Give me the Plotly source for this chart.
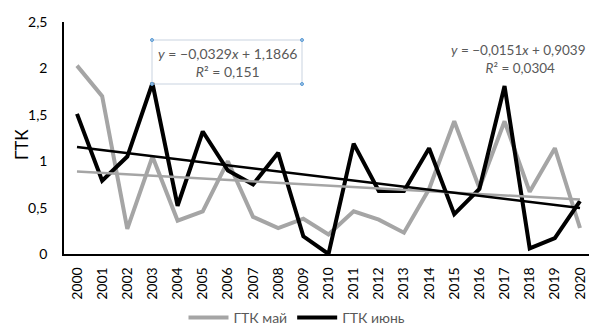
import plotly.graph_objects as go

years = list(range(2000, 2021))
gtk_may = [2.03, 1.70, 0.27, 1.05, 0.36, 0.46, 1.00, 0.40, 0.28, 0.38, 0.21,
           0.46, 0.37, 0.23, 0.70, 1.43, 0.71, 1.43, 0.67, 1.14, 0.28]
gtk_june = [1.51, 0.79, 1.05, 1.84, 0.52, 1.32, 0.90, 0.75, 1.09, 0.19, 0.00,
            1.19, 0.68, 0.68, 1.14, 0.43, 0.70, 1.81, 0.06, 0.17, 0.57]
# trend coefficients (slope, intercept) with x = 1..21
trend_may = [-0.0151, 0.9039]
trend_june = [-0.0329, 1.1866]
y_tickvals = [0, 0.5, 1, 1.5, 2, 2.5]
y_ticktext = ["0", "0,5", "1", "1,5", "2", "2,5"]

GRAY = "#A5A5A5"
FONT = "Lato"
TXT = "#404040"

idx = list(range(1, len(years) + 1))
tr_may = [trend_may[0] * i + trend_may[1] for i in idx]
tr_june = [trend_june[0] * i + trend_june[1] for i in idx]

fig = go.Figure()
fig.add_trace(go.Scatter(x=years, y=gtk_may, mode="lines", name="ГТК май",
                         line=dict(color=GRAY, width=4)))
fig.add_trace(go.Scatter(x=years, y=gtk_june, mode="lines", name="ГТК июнь",
                         line=dict(color="black", width=4)))
fig.add_trace(go.Scatter(x=years, y=tr_may, mode="lines", showlegend=False,
                         line=dict(color=GRAY, width=2.5)))
fig.add_trace(go.Scatter(x=years, y=tr_june, mode="lines", showlegend=False,
                         line=dict(color="black", width=2.5)))

W, H = 589, 329
L, R, T, B = 64, 0, 22, 75
pw = W - L - R
ph = H - T - B

def px(xp):
    return (xp - L) / pw

def py(yp):
    return (H - B - yp) / ph

fig.update_layout(
    width=W, height=H,
    margin=dict(l=L, r=R, t=T, b=B, autoexpand=False),
    paper_bgcolor="white", plot_bgcolor="white",
    font=dict(family=FONT, size=13, color=TXT),
    showlegend=True,
    legend=dict(orientation="h", x=px(297), xanchor="center", y=py(318), yanchor="middle",
                font=dict(size=14, color="#595959"), itemwidth=40,
                bgcolor="rgba(0,0,0,0)"),
    xaxis=dict(range=[1999.483, 2020.358], tickmode="array", tickvals=years,
               ticktext=[str(y) for y in years], tickangle=-90, automargin=False,
               showgrid=False, zeroline=False, showline=True, linecolor="black",
               linewidth=1.5, ticks="", ticklabelstandoff=6,
               tickfont=dict(size=14, color="black")),
    yaxis=dict(range=[0, 2.5], tickmode="array", tickvals=y_tickvals, ticktext=y_ticktext,
               showgrid=False, zeroline=False, showline=True, linecolor="black",
               linewidth=1.5, ticks="", ticklabelstandoff=12, automargin=False,
               tickfont=dict(size=14, color="black")),
)

fig.add_annotation(xref="paper", yref="paper", x=px(21), y=py(145), text="ГТК",
                   textangle=-90, showarrow=False, xanchor="center", yanchor="middle",
                   font=dict(size=17, color="black"))

# equation boxes
fig.add_annotation(xref="paper", yref="paper", x=px(227), y=py(62),
                   text="<i>y</i> = −0,0329<i>x</i> + 1,1866<br><i>R</i>² = 0,151",
                   showarrow=False, align="center", font=dict(size=14, color="#595959"),
                   xanchor="center", yanchor="middle")
fig.add_shape(type="rect", xref="paper", yref="paper", x0=px(152), x1=px(302),
              y0=py(84), y1=py(40), line=dict(color="#C9D3E0", width=1))
for (cx, cy) in [(152, 40), (302, 40), (152, 84), (302, 84)]:
    fig.add_shape(type="circle", xref="paper", yref="paper",
                  x0=px(cx - 1.5), x1=px(cx + 1.5), y0=py(cy + 1.5), y1=py(cy - 1.5),
                  line=dict(color="#5B9BD5", width=1), fillcolor="#9DC3E6")

fig.add_annotation(xref="paper", yref="paper", x=px(449), y=py(59),
                   text="<i>y</i> = −0,0151<i>x</i> + 0,9039<br>          <i>R</i>² = 0,0304",
                   showarrow=False, align="left", font=dict(size=13.5, color="#595959"),
                   xanchor="left", yanchor="middle")

fig.write_html("out.html", config={"displayModeBar": False},
               post_script="document.body.style.margin='0';document.body.style.overflow='hidden';")
